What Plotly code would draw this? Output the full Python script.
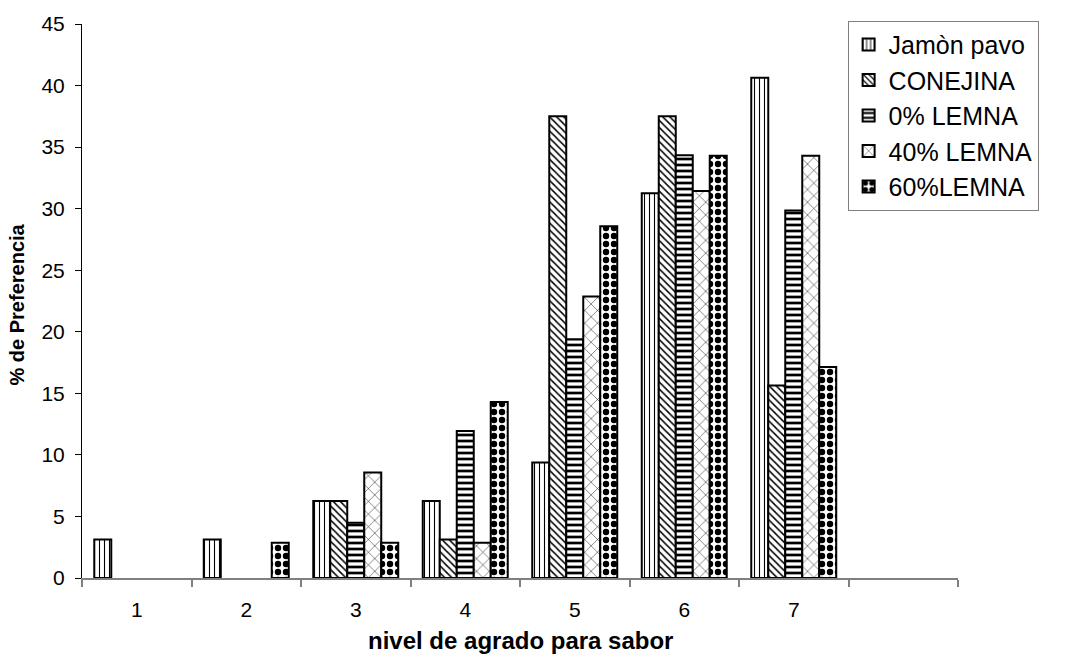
import plotly.graph_objects as go

# Sensory panel: % preference by liking level for flavour
niveles = [1, 2, 3, 4, 5, 6, 7, 8]
tick_labels = ["1", "2", "3", "4", "5", "6", "7", ""]

# None = no response at that level (no bar drawn)
jamon_pavo = [3.13, 3.13, 6.25, 6.25, 9.38, 31.25, 40.63, None]
conejina = [None, None, 6.25, 3.13, 37.5, 37.5, 15.63, None]
lemna_0 = [None, None, 4.48, 11.94, 19.4, 34.33, 29.85, None]
lemna_40 = [None, None, 8.57, 2.86, 22.86, 31.43, 34.29, None]
lemna_60 = [None, 2.86, 2.86, 14.29, 28.57, 34.29, 17.14, None]

series = [
    ("Jamòn pavo", jamon_pavo, "|", 5, 0.22),
    ("CONEJINA", conejina, "\\", 5, 0.3),
    ("0% LEMNA", lemna_0, "-", 6, 0.45),
    ("40% LEMNA", lemna_40, "x", 9, 0.1),
    ("60%LEMNA", lemna_60, ".", 8, 0.5),
]

fig = go.Figure()
for name, vals, shape, size, solidity in series:
    fig.add_trace(go.Bar(
        x=niveles,
        y=vals,
        name=name,
        legendgroup=name,
        marker=dict(
            color="white",
            line=dict(color="black", width=2),
            pattern=dict(shape=shape, size=size, solidity=solidity,
                         fgcolor="black", bgcolor="white", fillmode="replace"),
        ),
    ))

fig.update_layout(
    width=1066,
    height=659,
    margin=dict(l=82, r=108, t=17, b=81),
    paper_bgcolor="white",
    plot_bgcolor="white",
    barmode="group",
    bargap=0.224,
    bargroupgap=0,
    font=dict(family="Liberation Sans, Arial, sans-serif", size=21, color="black"),
    showlegend=True,
    legend=dict(
        x=0.874, y=1.006, xanchor="left", yanchor="top",
        bgcolor="white", bordercolor="#7f7f7f", borderwidth=1,
        font=dict(size=25, color="black"),
        tracegroupgap=0,
        itemwidth=30,
    ),
    xaxis=dict(
        range=[0.5, 8.5],
        tickmode="array",
        tickvals=niveles,
        ticktext=tick_labels,
        ticks="",
        ticklabelstandoff=12,
        showgrid=False,
        showline=True,
        linecolor="#808080",
        linewidth=1.5,
        zeroline=False,
        tickfont=dict(size=21),
        minor=dict(
            tickmode="array",
            tickvals=[0.5, 1.5, 2.5, 3.5, 4.5, 5.5, 6.5, 7.5, 8.5],
            ticks="outside",
            ticklen=7,
            tickcolor="#808080",
            tickwidth=1.5,
            showgrid=False,
        ),
    ),
    yaxis=dict(
        range=[0, 45],
        dtick=5,
        ticks="outside",
        ticklen=6,
        tickcolor="black",
        ticklabelstandoff=6,
        showgrid=False,
        showline=True,
        linecolor="black",
        linewidth=1,
        zeroline=False,
        tickfont=dict(size=21),
    ),
    annotations=[
        dict(text="<b>nivel de agrado para sabor</b>", xref="paper", yref="paper",
             x=0.5, y=-0.112, xanchor="center", yanchor="middle", showarrow=False,
             font=dict(size=24)),
        dict(text="<b>% de Preferencia</b>", xref="paper", yref="paper",
             x=-0.074, y=0.494, xanchor="center", yanchor="middle", showarrow=False,
             textangle=-90, font=dict(size=20)),
    ],
)

fig.write_html("out.html")
